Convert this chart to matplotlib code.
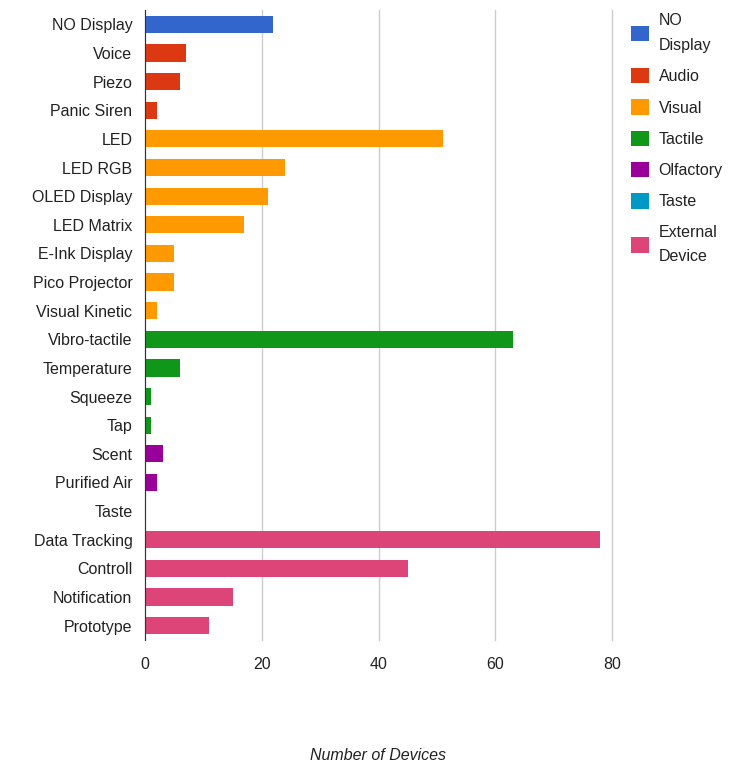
import matplotlib.pyplot as plt
from matplotlib.patches import Patch

plt.rcParams['font.family'] = ['Liberation Sans', 'DejaVu Sans']

# Data
labels = ['NO Display', 'Voice', 'Piezo', 'Panic Siren', 'LED', 'LED RGB',
          'OLED Display', 'LED Matrix', 'E-Ink Display', 'Pico Projector',
          'Visual Kinetic', 'Vibro-tactile', 'Temperature', 'Squeeze', 'Tap',
          'Scent', 'Purified Air', 'Taste', 'Data Tracking', 'Controll',
          'Notification', 'Prototype']
values = [22, 7, 6, 2, 51, 24, 21, 17, 5, 5, 2, 63, 6, 1, 1, 3, 2, 0, 78, 45, 15, 11]
groups = ['NO Display', 'Audio', 'Audio', 'Audio', 'Visual', 'Visual', 'Visual',
          'Visual', 'Visual', 'Visual', 'Visual', 'Tactile', 'Tactile', 'Tactile',
          'Tactile', 'Olfactory', 'Olfactory', 'Taste', 'External Device',
          'External Device', 'External Device', 'External Device']
group_names = ['NO Display', 'Audio', 'Visual', 'Tactile', 'Olfactory', 'Taste', 'External Device']
group_labels = ['NO\nDisplay', 'Audio', 'Visual', 'Tactile', 'Olfactory', 'Taste', 'External\nDevice']
group_colors = ['#3366cc', '#dc3912', '#ff9900', '#109618', '#990099', '#0099c6', '#dd4477']

color_of = dict(zip(group_names, group_colors))

fig = plt.figure(figsize=(7.39, 7.64), dpi=100)
ax = fig.add_axes([145 / 739, 1 - 640 / 764, (612 - 145) / 739, 630 / 764])

y = range(len(labels))
ax.barh(y, values, height=0.6, color=[color_of[g] for g in groups], zorder=3)

ax.set_ylim(len(labels) - 0.5, -0.5)
ax.set_xlim(0, 80)
ax.set_yticks(list(y))
ax.set_yticklabels(labels)
ax.set_xticks([0, 20, 40, 60, 80])
ax.tick_params(axis='both', length=0, labelsize=11.5, colors='#222222')
ax.tick_params(axis='y', pad=9)
ax.tick_params(axis='x', pad=12)
ax.grid(axis='x', color='#cccccc', linewidth=1, zorder=0)
for gl in ax.get_xgridlines():
    gl.set_clip_on(False)
for s in ['top', 'right', 'bottom']:
    ax.spines[s].set_visible(False)
ax.spines['left'].set_color('#333333')
ax.spines['left'].set_zorder(4)

ax.set_xlabel('Number of Devices', fontsize=11.5, style='italic', color='#222222', labelpad=55)

handles = [Patch(facecolor=c, edgecolor='none') for c in group_colors]
leg = fig.legend(handles, group_labels, loc='upper left', bbox_to_anchor=(625 / 739, 1 - 7 / 764),
                 frameon=False, fontsize=11.5, labelcolor='#222222', handlelength=1.1,
                 handleheight=1.1, handletextpad=0.6, labelspacing=0.95, borderaxespad=0)
for t in leg.get_texts():
    t.set_linespacing(1.8)

fig.savefig('out.png', dpi=100)
